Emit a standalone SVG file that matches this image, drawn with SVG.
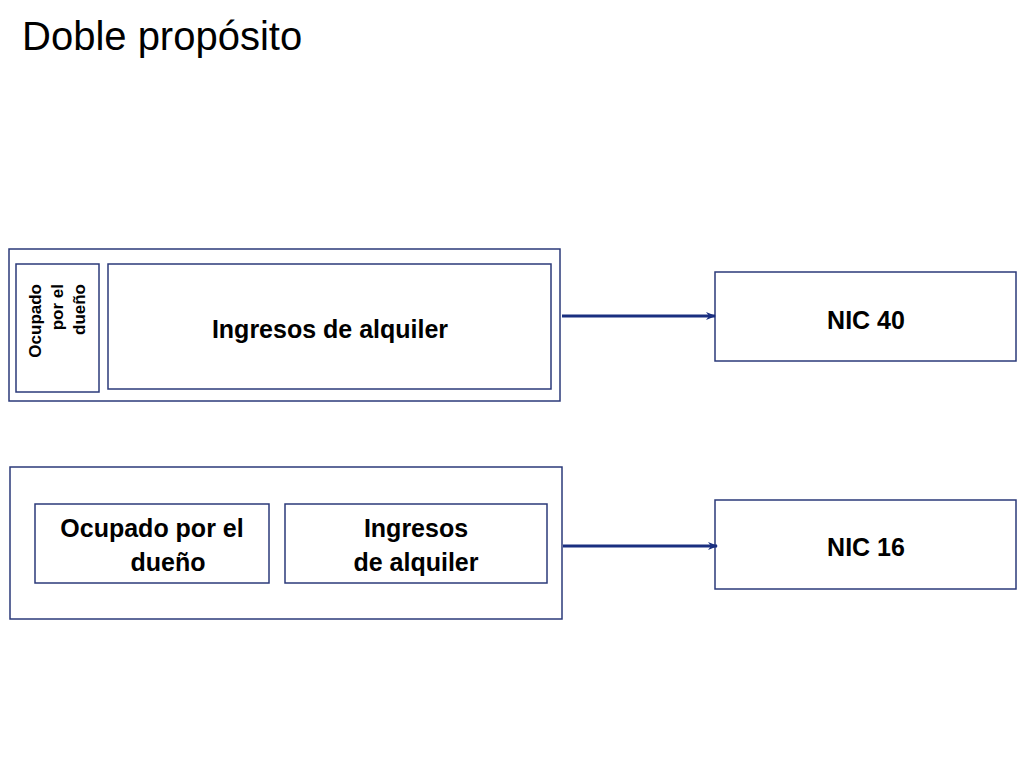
<svg xmlns="http://www.w3.org/2000/svg" width="1024" height="768" viewBox="0 0 1024 768">
<style>
.b{fill:#fff;stroke:#2b3a7a;stroke-width:1.5}
.t{font-family:"Liberation Sans",Arial,sans-serif;font-weight:bold;fill:#000}
.c{stroke:#1a2f80;stroke-width:3;fill:none}
</style>
<defs><marker id="a" markerWidth="10" markerHeight="8" refX="9" refY="4" orient="auto" markerUnits="userSpaceOnUse"><path d="M0,0 L10,4 L0,8 L3,4 Z" fill="#1a2f80"/></marker></defs>
<rect width="1024" height="768" fill="#fff"/>
<text x="22" y="50" font-family="Liberation Sans,Arial,sans-serif" font-size="40" fill="#000">Doble propósito</text>
<g id="top">
<rect class="b" x="9" y="249" width="551" height="152"/>
<g id="owner1"><rect class="b" x="16" y="264" width="83" height="128"/>
<text class="t" font-size="17" text-anchor="end" transform="translate(41,284) rotate(-90)"><tspan x="0" y="0">Ocupado</tspan><tspan x="0" y="22">por el</tspan><tspan x="0" y="44">dueño</tspan></text></g>
<g id="rent1"><rect class="b" x="108" y="264" width="443" height="125"/>
<text class="t" font-size="25" x="330" y="338" text-anchor="middle">Ingresos de alquiler</text></g>
</g>
<g id="bottom">
<rect class="b" x="10" y="467" width="552" height="152"/>
<g id="owner2"><rect class="b" x="35" y="504" width="234" height="79"/>
<text class="t" font-size="25" text-anchor="middle"><tspan x="152" y="537">Ocupado por el</tspan><tspan x="168" y="571">dueño</tspan></text></g>
<g id="rent2"><rect class="b" x="285" y="504" width="262" height="79"/>
<text class="t" font-size="25" text-anchor="middle"><tspan x="416" y="537">Ingresos</tspan><tspan x="416" y="571">de alquiler</tspan></text></g>
</g>
<g id="nic40"><rect class="b" x="715" y="272" width="301" height="89"/>
<text class="t" font-size="25" x="866" y="329" text-anchor="middle">NIC 40</text></g>
<g id="nic16"><rect class="b" x="715" y="500" width="301" height="89"/>
<text class="t" font-size="25" x="866" y="556" text-anchor="middle">NIC 16</text></g>
<g id="connectors">
<line class="c" x1="562" y1="316" x2="715" y2="316" marker-end="url(#a)"/>
<line class="c" x1="563" y1="546" x2="717" y2="546" marker-end="url(#a)"/>
</g>
</svg>
